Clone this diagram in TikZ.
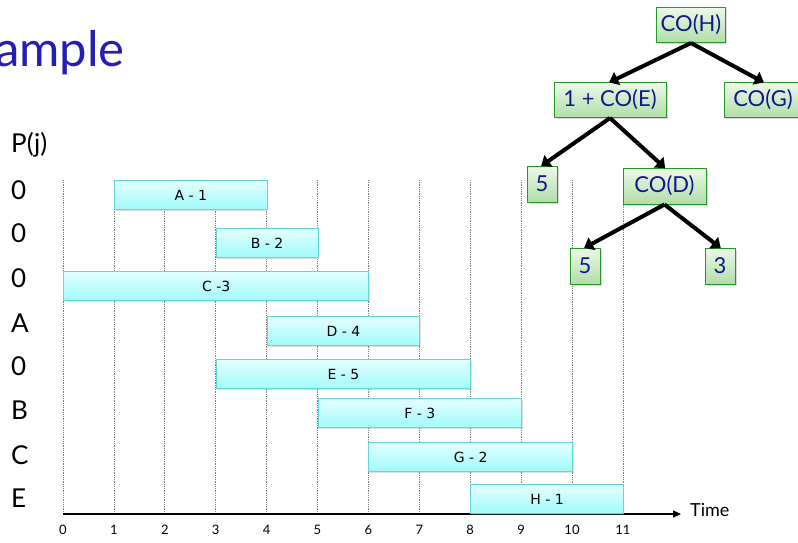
\documentclass[tikz,border=0pt]{standalone}
\usepackage{fontspec}
\setmainfont{Lato}
\newfontfamily\barfont{DejaVu Sans}
\usetikzlibrary{arrows.meta,shadows}

\definecolor{titleblue}{RGB}{36,30,178}
\definecolor{treetext}{RGB}{22,22,140}
\definecolor{treeedge}{RGB}{40,150,40}
\definecolor{treetop}{RGB}{236,248,232}
\definecolor{treebot}{RGB}{176,222,168}
\definecolor{baredge}{RGB}{100,214,214}
\definecolor{bartop}{RGB}{228,255,255}
\definecolor{barbot}{RGB}{160,250,250}

\tikzset{
  jobbar/.style={draw=baredge, line width=1pt, top color=bartop, bottom color=barbot,
    anchor=north west, minimum height=29pt, inner sep=0pt,
    font=\barfont\fontsize{14}{14}\selectfont, text=black,
    drop shadow={shadow xshift=1pt, shadow yshift=-1.5pt, opacity=0.25}},
  treebox/.style={draw=treeedge, line width=1pt, top color=treetop, bottom color=treebot,
    minimum height=35pt, inner sep=0pt, font=\fontsize{22}{22}\selectfont, text=treetext,
    drop shadow={shadow xshift=1.5pt, shadow yshift=-1.5pt, opacity=0.3}},
  treearrow/.style={line width=4pt, -{Triangle[length=9pt,width=14pt]}, shorten >=-1pt},
  gridline/.style={gray, densely dotted, line width=0.8pt},
  rowlabel/.style={anchor=west, inner sep=0pt, font=\fontsize{26}{26}\selectfont},
  ticklabel/.style={inner sep=0pt, font=\fontsize{13}{13}\selectfont},
}

\begin{document}
\begin{tikzpicture}[x=1pt,y=-1pt]
\useasboundingbox (0,0) rectangle (798,542);

% title fragment
\node[anchor=base west, inner sep=0pt, text=titleblue, font=\fontsize{49}{49}\selectfont]
  (title) at (-5,66) {ample};

% vertical dotted grid, one line per time unit
\foreach \t in {0,...,11} {
  \coordinate (gtop\t) at ({63+50.9*\t},180);
  \coordinate (gbot\t) at ({63+50.9*\t},514);
  \draw[gridline] (gtop\t) -- (gbot\t);
  \node[ticklabel] (tick\t) at ({63+50.9*\t},530) {\t};
}

% time axis
\coordinate (axstart) at (63,514);
\coordinate (axend) at (681,514);
\draw[line width=1.2pt, -{Triangle[length=8pt,width=7pt]}] (axstart) -- (axend);
\node[anchor=west, inner sep=0pt, font=\fontsize{18}{18}\selectfont] (timelbl) at (690,510) {Time};

% predecessor column
\node[rowlabel] (pj) at (11,145) {P(j)};
\foreach \lbl/\y [count=\i] in {0/190,0/233,0/278,A/323,0/366,B/410,C/455,E/498}
  \node[rowlabel] (p\i) at (11,\y) {\lbl};

% jobs: start, end, top edge, label
\foreach \nm/\s/\e/\y/\txt in {A/1/4/180/A - 1, B/3/5/228/B - 2, C/0/6/271/C -3,
    D/4/7/316/D - 4, E/3/8/359/E - 5, F/5/9/398/F - 3, G/6/10/442/G - 2, H/8/11/484/H - 1}
  \node[jobbar, minimum width={50.9pt*(\e-\s)}] (job\nm) at ({63+50.9*\s},\y) {\txt};

% recursion tree
\node[treebox, minimum width=69pt] (coH) at (691,25) {CO(H)};
\node[treebox, minimum width=112pt] (coE) at (610,100) {1 + CO(E)};
\node[treebox, minimum width=78pt] (coG) at (763,100) {CO(G)};
\node[treebox, minimum width=30pt, minimum height=36pt] (fiveA) at (542,184) {5};
\node[treebox, minimum width=83pt, minimum height=36pt] (coD) at (664.5,186) {CO(D)};
\node[treebox, minimum width=30pt, minimum height=36pt] (fiveB) at (585,266) {5};
\node[treebox, minimum width=30pt, minimum height=36pt] (three) at (720,266) {3};

\draw[treearrow] (coH.south) -- (coE.north);
\draw[treearrow] (coH.south) -- (coG.north);
\draw[treearrow] (coE.south) -- (fiveA.north);
\draw[treearrow] (coE.south) -- (coD.north);
\draw[treearrow] (coD.south) -- (fiveB.north);
\draw[treearrow] (coD.south) -- (three.north);
\end{tikzpicture}
\end{document}
